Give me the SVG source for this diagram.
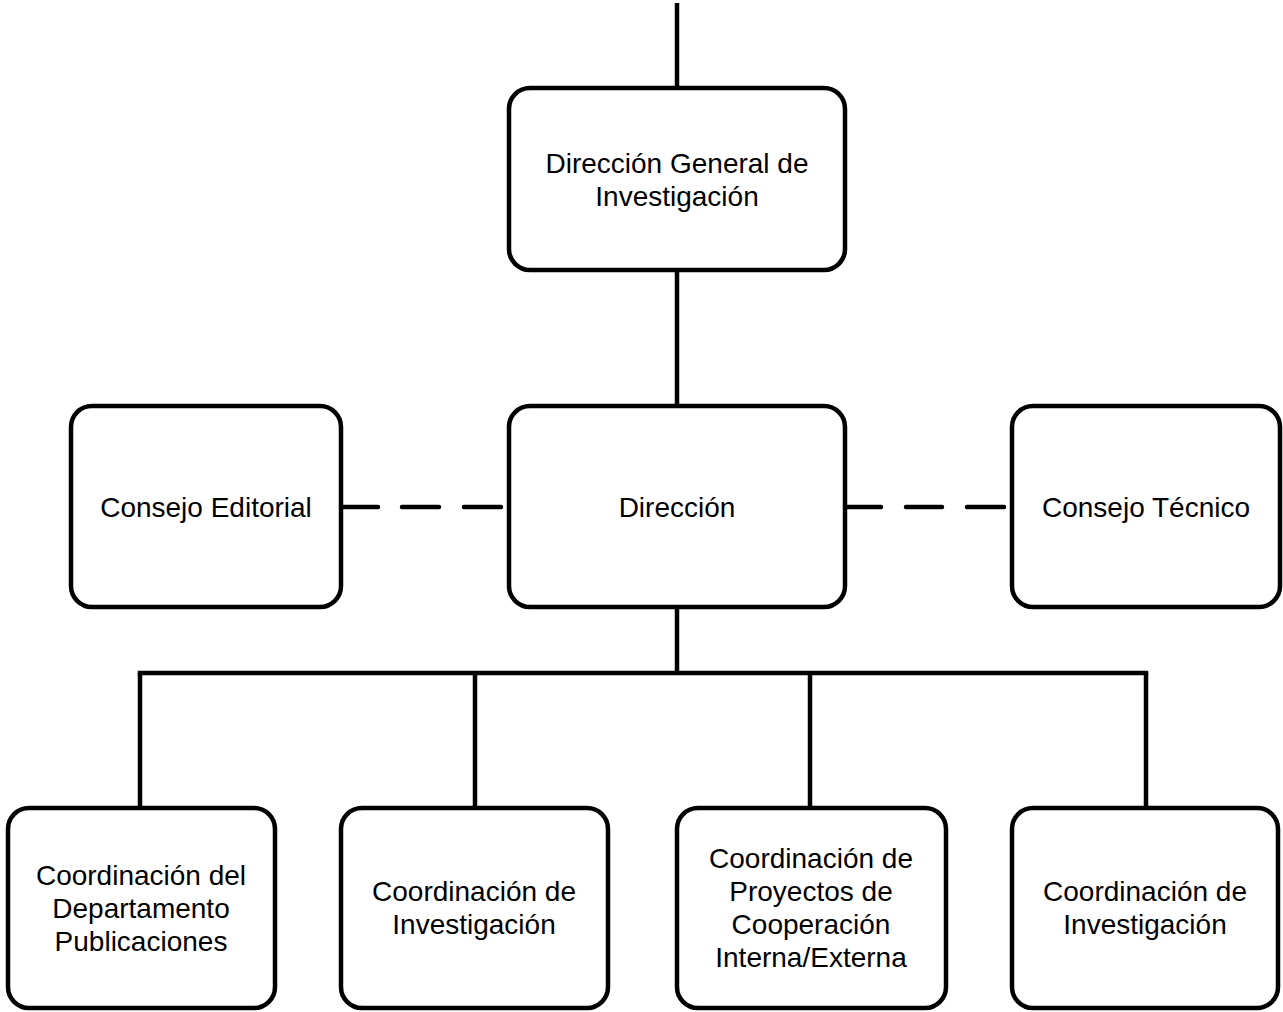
<svg xmlns="http://www.w3.org/2000/svg" width="1283" height="1012" viewBox="0 0 1283 1012">
<style>
.box{fill:#fff;stroke:#000;stroke-width:4.5}
.ln{fill:none;stroke:#000;stroke-width:4.5}
.dash{fill:none;stroke:#000;stroke-width:4.5;stroke-linecap:round}
text{font-family:"Liberation Sans",Arial,sans-serif;font-size:28px;fill:#000;text-anchor:middle}
</style>
<rect width="1283" height="1012" fill="#fff"/>
<g id="connectors">
<line class="ln" x1="677" y1="3" x2="677" y2="88"/>
<line class="ln" x1="677" y1="270" x2="677" y2="406"/>
<line class="ln" x1="677" y1="607" x2="677" y2="673"/>
<line class="ln" x1="137.75" y1="673" x2="1148.25" y2="673"/>
<line class="ln" x1="140" y1="673" x2="140" y2="808"/>
<line class="ln" x1="475" y1="673" x2="475" y2="808"/>
<line class="ln" x1="810" y1="673" x2="810" y2="808"/>
<line class="ln" x1="1146" y1="673" x2="1146" y2="808"/>
<path class="dash" d="M343 507H378M402 507H439M464 507H501"/>
<path class="dash" d="M847 507H881M906 507H942M967 507H1004"/>
</g>
<g id="n-dgi"><rect class="box" x="509" y="88" width="336" height="182" rx="21"/><text x="677" y="173">Dirección General de</text><text x="677" y="206">Investigación</text></g>
<g id="n-direccion"><rect class="box" x="509" y="406" width="336" height="201" rx="21"/><text x="677" y="517">Dirección</text></g>
<g id="n-editorial"><rect class="box" x="71" y="406" width="270" height="201" rx="21"/><text x="206" y="517">Consejo Editorial</text></g>
<g id="n-tecnico"><rect class="box" x="1012" y="406" width="268" height="201" rx="21"/><text x="1146" y="517">Consejo Técnico</text></g>
<g id="n-publicaciones"><rect class="box" x="8" y="808" width="267" height="200" rx="21"/><text x="141" y="885">Coordinación del</text><text x="141" y="918">Departamento</text><text x="141" y="951">Publicaciones</text></g>
<g id="n-investigacion1"><rect class="box" x="341" y="808" width="267" height="200" rx="21"/><text x="474" y="901">Coordinación de</text><text x="474" y="934">Investigación</text></g>
<g id="n-cooperacion"><rect class="box" x="677" y="808" width="269" height="200" rx="21"/><text x="811" y="868">Coordinación de</text><text x="811" y="901">Proyectos de</text><text x="811" y="934">Cooperación</text><text x="811" y="967">Interna/Externa</text></g>
<g id="n-investigacion2"><rect class="box" x="1012" y="808" width="266" height="200" rx="21"/><text x="1145" y="901">Coordinación de</text><text x="1145" y="934">Investigación</text></g>
</svg>
